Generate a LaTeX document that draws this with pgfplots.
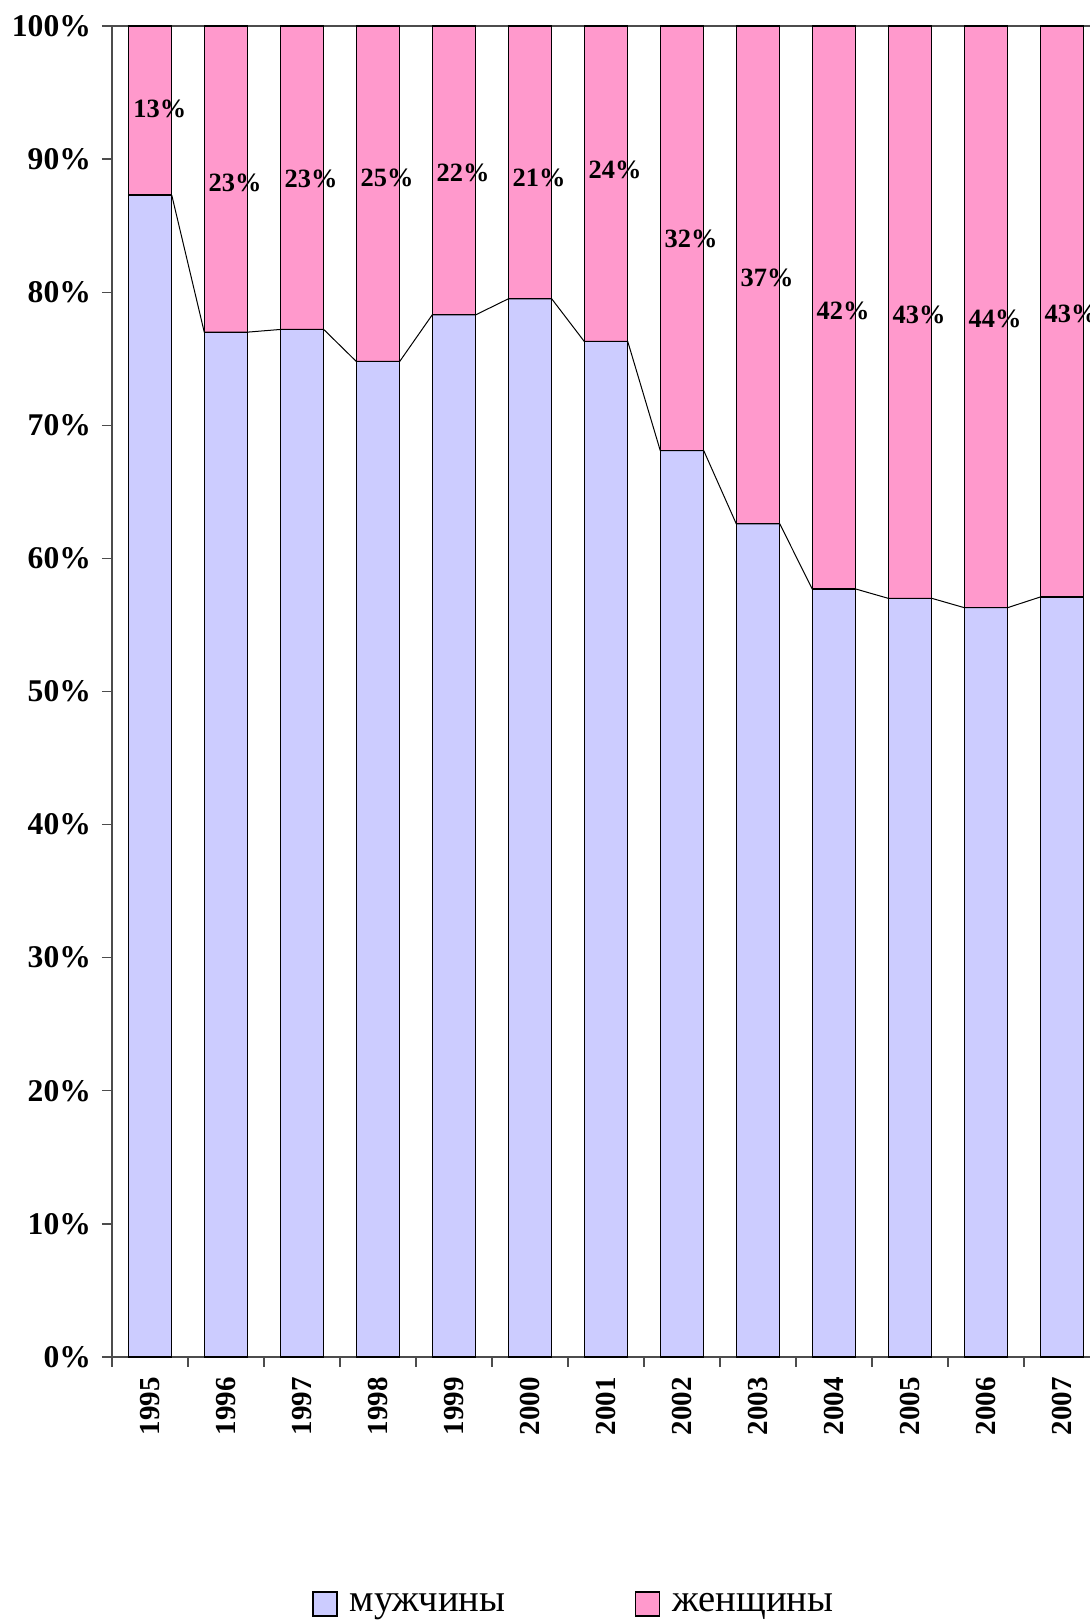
\documentclass[border=0pt]{standalone}
\usepackage{pgfplots}
\pgfplotsset{compat=1.18}
\usepackage{fontspec}
\setmainfont{Liberation Serif}
\definecolor{men}{HTML}{CCCCFF}
\definecolor{women}{HTML}{FF99CC}
\begin{document}
\begin{tikzpicture}
\path[use as bounding box] (0,0) rectangle (544.5pt,812pt);
\begin{axis}[
  at={(56pt,133.5pt)}, anchor=south west,
  scale only axis, width=494pt, height=665.5pt,
  xmin=-0.5, xmax=12.5, ymin=0, ymax=100,
  axis line style={black!70, line width=0.6pt},
  xtick pos=left, ytick pos=left,
  tick align=outside, major tick length=5pt,
  tick style={black!70, line width=0.6pt},
  ytick={0,10,...,100},
  yticklabels={0\%,10\%,20\%,30\%,40\%,50\%,60\%,70\%,80\%,90\%,100\%},
  yticklabel style={font=\bfseries\fontsize{15.8}{17}\selectfont, xshift=-2pt},
  xtick={-0.5,0.5,...,12.5},
  x tick label as interval,
  xticklabels={1995,1996,1997,1998,1999,2000,2001,2002,2003,2004,2005,2006,2007},
  xticklabel style={rotate=90, anchor=east, font=\bfseries\fontsize{14.5}{16}\selectfont, xshift=-1.5pt},
  legend image code/.code={\draw[#1, line width=0.6pt] (0pt,-6pt) rectangle (12pt,6pt);},
  legend columns=2,
  legend style={draw=none, fill=none, inner sep=0pt,
    at={(axis description cs:0.2025,-0.1856)}, anchor=west,
    font=\fontsize{19.3}{23}\selectfont,
    /tikz/every odd column/.append style={column sep=4pt},
    /tikz/every even column/.append style={column sep=63pt}},
]
\addplot[ybar, bar width=21.7pt, bar shift=0pt, fill=women, draw=black, line width=0.6pt, forget plot]
  coordinates {(0,100) (1,100) (2,100) (3,100) (4,100) (5,100) (6,100) (7,100) (8,100) (9,100) (10,100) (11,100) (12,100)};
\addplot[ybar, bar width=21.7pt, bar shift=0pt, fill=men, draw=black, line width=0.6pt, forget plot]
  coordinates {(0,87.3) (1,77.0) (2,77.2) (3,74.8) (4,78.3) (5,79.5) (6,76.3) (7,68.1) (8,62.6) (9,57.7) (10,57.0) (11,56.3) (12,57.1)};
\addplot[black, line width=0.5pt, mark=none, forget plot]
  coordinates {(0.286,87.3) (0.714,77.0) (1.286,77.0) (1.714,77.2) (2.286,77.2) (2.714,74.8) (3.286,74.8) (3.714,78.3) (4.286,78.3) (4.714,79.5) (5.286,79.5) (5.714,76.3) (6.286,76.3) (6.714,68.1) (7.286,68.1) (7.714,62.6) (8.286,62.6) (8.714,57.7) (9.286,57.7) (9.714,57.0) (10.286,57.0) (10.714,56.3) (11.286,56.3) (11.714,57.1)};
\addplot[only marks, mark=none, forget plot, point meta=explicit symbolic,
  nodes near coords,
  every node near coord/.style={anchor=center, font=\bfseries\fontsize{13.2}{15}\selectfont}]
  coordinates {(0.13,93.8)[13\%] (1.12,88.2)[23\%] (2.12,88.5)[23\%] (3.12,88.6)[25\%] (4.12,89.0)[22\%] (5.12,88.6)[21\%] (6.12,89.2)[24\%] (7.12,84.0)[32\%] (8.12,81.1)[37\%] (9.12,78.6)[42\%] (10.12,78.3)[43\%] (11.12,78.0)[44\%] (12.12,78.4)[43\%]};
\addlegendimage{fill=men, draw=black}
\addlegendentry{мужчины}
\addlegendimage{fill=women, draw=black}
\addlegendentry{женщины}
\end{axis}
\end{tikzpicture}
\end{document}
